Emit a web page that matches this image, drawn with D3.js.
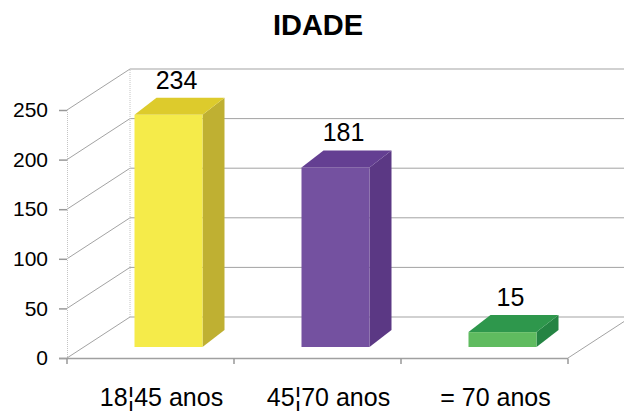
<!DOCTYPE html>
<html>
<head>
<meta charset="utf-8">
<script src="https://cdn.jsdelivr.net/npm/d3@7"></script>
<style>
  html, body { margin: 0; padding: 0; background: #fff; }
  svg { display: block; }
  text { font-family: "Liberation Sans", Arial, sans-serif; }
</style>
</head>
<body>
<svg id="chart" width="624" height="412"></svg>
<script>
const title = "IDADE";
const categories = ["18¦45 anos", "45¦70 anos", "= 70 anos"];
const values = [234, 181, 15];
const yTicks = [0, 50, 100, 150, 200, 250];
const frontColors = ["#F5EB4A", "#7451A0", "#5FBB5F"];
const topColors = ["#DDCB2C", "#643F92", "#2E974C"];
const sideColors = ["#BFB032", "#5B3884", "#248443"];

const W = 624, H = 412;
const svg = d3.select("#chart");

// geometry
const wallDx = 63, wallDy = -41;      // depth offset of the back wall
const barOffX = 18, barOffY = -11;    // bar front face offset from floor front
const barDx = 22, barDy = -17;        // bar depth
const barW = 68;

const x = d3.scaleBand().domain(categories).range([67, 568]);
const y = d3.scaleLinear().domain([0, 250]).range([358, 110]);

const gridColor = "#a3a3a3";
const g = svg.append("g");

// back wall gridlines
g.selectAll("line.grid").data(yTicks).enter().append("line")
  .attr("x1", x.range()[0] + wallDx).attr("x2", W + 20)
  .attr("y1", d => y(d) + wallDy).attr("y2", d => y(d) + wallDy)
  .attr("stroke", gridColor).attr("stroke-width", 1);

// left wall diagonals
g.selectAll("line.diag").data(yTicks).enter().append("line")
  .attr("x1", x.range()[0]).attr("y1", d => y(d))
  .attr("x2", x.range()[0] + wallDx).attr("y2", d => y(d) + wallDy)
  .attr("stroke", gridColor).attr("stroke-width", 1);

// back wall left vertical edge
g.append("line")
  .attr("x1", x.range()[0] + wallDx).attr("x2", x.range()[0] + wallDx)
  .attr("y1", y(0) + wallDy).attr("y2", y(250) + wallDy)
  .attr("stroke", "#c4c4c4").attr("stroke-width", 1).attr("stroke-dasharray", "1,1");

// floor right diagonal
g.append("line")
  .attr("x1", x.range()[1]).attr("y1", y(0))
  .attr("x2", x.range()[1] + wallDx).attr("y2", y(0) + wallDy)
  .attr("stroke", gridColor).attr("stroke-width", 1);

// y axis
const yAxis = d3.axisLeft(y).tickValues(yTicks).tickSize(8).tickPadding(11);
const ya = svg.append("g").attr("transform", `translate(${x.range()[0]},0)`).call(yAxis);
ya.select(".domain").attr("stroke", "#c4c4c4").attr("stroke-dasharray", "1,1");
ya.selectAll(".tick line").attr("stroke", "#999").attr("stroke-width", 1.5);
ya.selectAll(".tick text")
  .attr("font-size", 21).attr("fill", "#000")
  .attr("font-family", "'Liberation Sans', Arial, sans-serif");

// floor front edge (category axis)
svg.append("line")
  .attr("x1", x.range()[0] - 8).attr("x2", x.range()[1])
  .attr("y1", y(0) + 0.5).attr("y2", y(0) + 0.5)
  .attr("stroke", "#a0a0a0").attr("stroke-width", 1.6);
const bounds = categories.map(c => x(c)).concat([x.range()[1]]);
svg.selectAll("line.xt").data(bounds).enter().append("line")
  .attr("x1", d => d).attr("x2", d => d)
  .attr("y1", y(0) + 0.5).attr("y2", y(0) + 6)
  .attr("stroke", "#999").attr("stroke-width", 1.5);

// bars
const bars = svg.selectAll("g.bar").data(categories).enter().append("g");
bars.each(function(c, i) {
  const gb = d3.select(this);
  const cx = x(c) + x.bandwidth() / 2 + barOffX;
  const x0 = cx - barW / 2, x1 = cx + barW / 2;
  const yb = y(0) + barOffY;
  const yt = y(values[i]) + barOffY;
  // side
  gb.append("polygon")
    .attr("points", [[x1, yt], [x1, yb], [x1 + barDx, yb + barDy], [x1 + barDx, yt + barDy]].join(" "))
    .attr("fill", sideColors[i]);
  // top
  gb.append("polygon")
    .attr("points", [[x0, yt], [x1, yt], [x1 + barDx, yt + barDy], [x0 + barDx, yt + barDy]].join(" "))
    .attr("fill", topColors[i]);
  // front
  gb.append("rect")
    .attr("x", x0).attr("y", yt).attr("width", barW).attr("height", yb - yt)
    .attr("fill", frontColors[i]);
  // value label
  gb.append("text")
    .attr("x", cx + 8).attr("y", yt + barDy - 9)
    .attr("text-anchor", "middle").attr("font-size", 25).attr("fill", "#000")
    .text(values[i]);
});

// category labels
svg.selectAll("text.cat").data(categories).enter().append("text")
  .attr("x", d => x(d) + x.bandwidth() / 2 + 11)
  .attr("y", 406)
  .attr("text-anchor", "middle").attr("font-size", 25).attr("fill", "#000")
  .text(d => d);

// title
svg.append("text")
  .attr("x", 318).attr("y", 35)
  .attr("text-anchor", "middle").attr("font-size", 29).attr("font-weight", "bold")
  .attr("fill", "#000").text(title);
</script>
</body>
</html>
